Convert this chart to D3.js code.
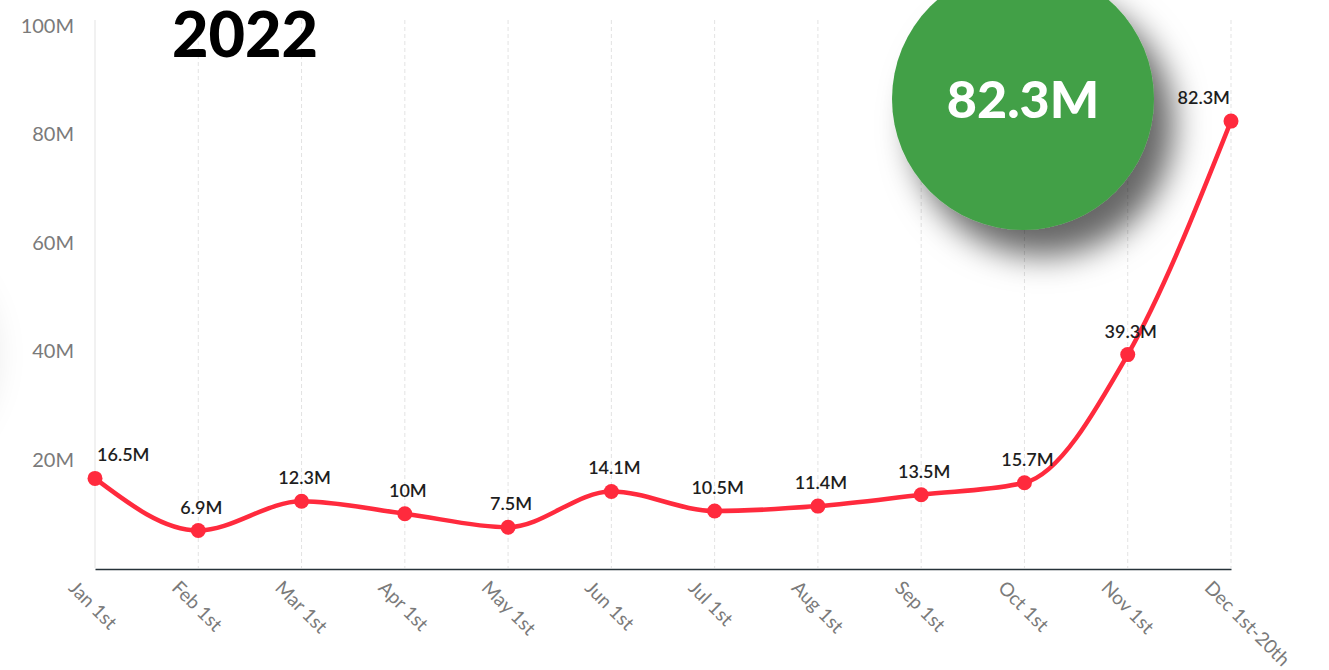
<!DOCTYPE html>
<html>
<head>
<meta charset="utf-8">
<script src="https://cdn.jsdelivr.net/npm/d3@7"></script>
<style>
  html, body { margin: 0; padding: 0; background: #fff; }
  svg { display: block; font-family: Lato, "Open Sans", sans-serif; }
</style>
</head>
<body>
<svg id="chart" width="1329" height="670"></svg>
<script>
// data
var categories = ['Jan 1st', 'Feb 1st', 'Mar 1st', 'Apr 1st', 'May 1st', 'Jun 1st',
                  'Jul 1st', 'Aug 1st', 'Sep 1st', 'Oct 1st', 'Nov 1st', 'Dec 1st-20th'];
var values = [16.5, 6.9, 12.3, 10, 7.5, 14.1, 10.5, 11.4, 13.5, 15.7, 39.3, 82.3];
var valueLabels = ['16.5M', '6.9M', '12.3M', '10M', '7.5M', '14.1M', '10.5M', '11.4M', '13.5M', '15.7M', '39.3M', '82.3M'];
var yTicks = [20, 40, 60, 80, 100];
var title = '2022';
var badge = '82.3M';

var svg = d3.select('#chart');
var defs = svg.append('defs');

var x = d3.scalePoint().domain(categories).range([95, 1231]);
var y = d3.scaleLinear().domain([0, 100]).range([568, 25]);

// shadow filter for the big circle
var f = defs.append('filter').attr('id', 'shadow')
  .attr('x', '-50%').attr('y', '-50%').attr('width', '200%').attr('height', '200%');
f.append('feDropShadow').attr('dx', 20).attr('dy', 26).attr('stdDeviation', 16)
  .attr('flood-color', '#000').attr('flood-opacity', 0.6);

var f2 = defs.append('filter').attr('id', 'softshadow')
  .attr('x', '-50%').attr('y', '-50%').attr('width', '200%').attr('height', '200%');
f2.append('feDropShadow').attr('dx', 4).attr('dy', 0).attr('stdDeviation', 14)
  .attr('flood-color', '#000').attr('flood-opacity', 0.07);

// faint shadow of something just off the left edge
svg.append('circle').attr('cx', -130).attr('cy', 355).attr('r', 125)
  .attr('fill', '#fff').attr('filter', 'url(#softshadow)');

// vertical dashed grid
svg.append('g').selectAll('line').data(categories).join('line')
  .attr('x1', function(d) { return x(d); }).attr('x2', function(d) { return x(d); })
  .attr('y1', 20).attr('y2', 568)
  .attr('stroke', '#e3e3e3').attr('stroke-width', 1)
  .attr('stroke-dasharray', function(d, i) { return i === 0 ? null : '4,3'; });

// y axis
var yAxis = svg.append('g').attr('transform', 'translate(74,0)')
  .call(d3.axisLeft(y).tickValues(yTicks).tickSize(0).tickPadding(0)
    .tickFormat(function(d) { return d + 'M'; }));
yAxis.select('.domain').remove();
yAxis.selectAll('text').attr('font-size', 20).attr('fill', '#7a7a7a')
  .attr('font-family', 'Lato, sans-serif').attr('dy', '0.35em');

// x axis
var xAxis = svg.append('g').attr('transform', 'translate(0,569)')
  .call(d3.axisBottom(x).tickSize(0).tickPadding(0));
xAxis.select('.domain').attr('stroke', '#263238').attr('stroke-width', 1.5);
xAxis.selectAll('.tick text')
  .attr('font-size', 19).attr('fill', '#7a7a7a').attr('font-family', 'Lato, sans-serif')
  .attr('text-anchor', 'start').attr('x', 0).attr('y', 0).attr('dy', 0)
  .attr('transform', 'translate(-28,20) rotate(45)');

// line
var line = d3.line()
  .x(function(d, i) { return x(categories[i]); })
  .y(function(d) { return y(d); })
  .curve(d3.curveMonotoneX);

svg.append('path').datum(values)
  .attr('d', line).attr('fill', 'none')
  .attr('stroke', '#ff2a3d').attr('stroke-width', 4.5).attr('stroke-linejoin', 'round');

svg.append('g').selectAll('circle').data(values).join('circle')
  .attr('cx', function(d, i) { return x(categories[i]); })
  .attr('cy', function(d) { return y(d); })
  .attr('r', 7.5).attr('fill', '#ff2a3d');

// data labels
var last = values.length - 1;
svg.append('g').selectAll('text').data(values).join('text')
  .attr('x', function(d, i) {
    if (i === 0) return x(categories[i]) + 2;
    if (i === last) return x(categories[i]) - 1;
    return x(categories[i]) + 3;
  })
  .attr('y', function(d) { return y(d) - 17; })
  .attr('text-anchor', function(d, i) { return i === 0 ? 'start' : (i === last ? 'end' : 'middle'); })
  .attr('font-size', 18).attr('font-weight', 600).attr('fill', '#1e1e1e')
  .text(function(d, i) { return valueLabels[i]; });

// title
svg.append('text').attr('x', 172).attr('y', 57)
  .attr('font-family', 'Lato, sans-serif').attr('font-weight', 900).attr('font-size', 63)
  .attr('fill', '#000').text(title);

// green badge
svg.append('circle').attr('cx', 1023).attr('cy', 99).attr('r', 131)
  .attr('fill', '#43a047').attr('filter', 'url(#shadow)');
svg.append('text').attr('x', 1023).attr('y', 118).attr('text-anchor', 'middle')
  .attr('font-family', 'Lato, sans-serif').attr('font-weight', 900).attr('font-size', 52)
  .attr('fill', '#fff').text(badge);
</script>
</body>
</html>
